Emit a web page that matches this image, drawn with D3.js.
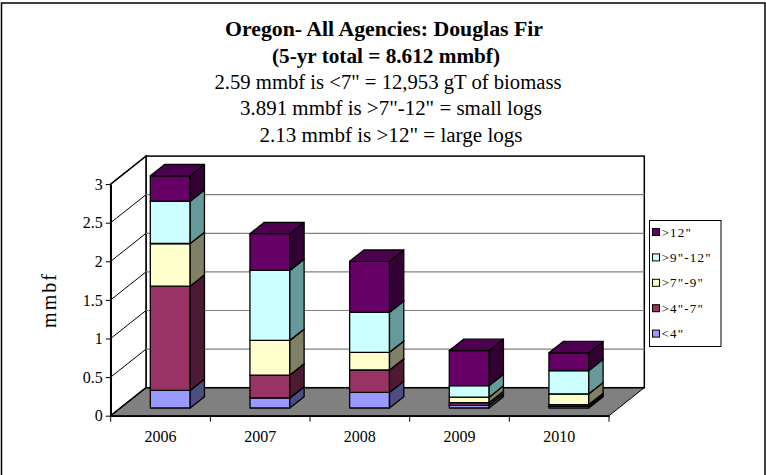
<!DOCTYPE html>
<html>
<head>
<meta charset="utf-8">
<script src="https://cdn.jsdelivr.net/npm/d3@7"></script>
<style>
  body { margin: 0; background: #fff; }
  svg text { font-family: "Liberation Serif", "Noto Serif", "FreeSerif", "Nimbus Roman", "Times New Roman", Times, Tinos, "DejaVu Serif", serif !important; fill: #000; }
</style>
</head>
<body>
<svg id="chart" width="766" height="475"></svg>
<script>
// data (mmbf)
var years = ["2006", "2007", "2008", "2009", "2010"];
var sizeClasses = ['<4"', '>4"-7"', '>7"-9"', '>9"-12"', '>12"'];
var lt4 = [0.228, 0.13, 0.202, 0.035, 0.02];
var from4to7 = [1.35, 0.297, 0.29, 0.035, 0.025];
var from7to9 = [0.553, 0.449, 0.229, 0.07, 0.139];
var from9to12 = [0.548, 0.906, 0.518, 0.15, 0.302];
var gt12 = [0.328, 0.476, 0.661, 0.455, 0.229];
var yTicks = [0, 0.5, 1, 1.5, 2, 2.5, 3];

var titleLines = [
  "Oregon- All Agencies:  Douglas Fir",
  "(5-yr total = 8.612 mmbf)",
  "2.59 mmbf is <7\" = 12,953 gT of biomass",
  "3.891 mmbf is >7\"-12\" = small logs",
  "2.13 mmbf is >12\" = large logs"
];

var front  = ["#9999FF", "#993366", "#FFFFCC", "#CCFFFF", "#660066"];
var tops   = ["#7373BF", "#732650", "#BFBF99", "#99BFBF", "#4D004D"];
var sides  = ["#4D4D80", "#4D1A33", "#808066", "#669999", "#330033"];

var svg = d3.select("#chart");

// outer chart border
svg.append("rect")
    .attr("x", 1.5).attr("y", 3)
    .attr("width", 763.5).attr("height", 480)
    .attr("fill", "#fff").attr("stroke", "#000").attr("stroke-width", 1.5);

// titles
var titleSpec = [
  {cx: 384, y: 36, w: 318, bold: true, size: 21},
  {cx: 386, y: 63, w: 228, bold: true, size: 21},
  {cx: 388, y: 89, w: 347, bold: false, size: 20.5},
  {cx: 391, y: 115, w: 302, bold: false, size: 20.5},
  {cx: 391, y: 142, w: 263, bold: false, size: 20.5}
];
svg.selectAll(".title")
  .data(titleLines)
  .enter().append("text")
    .attr("class", "title")
    .attr("x", (d, i) => titleSpec[i].cx)
    .attr("y", (d, i) => titleSpec[i].y)
    .attr("text-anchor", "middle")
    .attr("textLength", (d, i) => titleSpec[i].w)
    .attr("lengthAdjust", "spacingAndGlyphs")
    .style("font-size", (d, i) => titleSpec[i].size + "px")
    .style("font-weight", (d, i) => titleSpec[i].bold ? "bold" : "normal")
    .text(d => d);

// 3d frame
var x0 = 110.7, x1 = 609;
var DX = 35.3, DY = -28;           // full depth offset of back wall
var d0 = 0.275, d1 = 0.68;         // bar depth range

var x = d3.scaleBand()
    .domain(years)
    .range([x0, x1])
    .paddingInner(0.6)
    .paddingOuter(0.3);

var y = d3.scaleLinear()
    .domain([0, 3])
    .range([415.7, 184.1]);

function p(xv, v, d) { return [xv + d * DX, y(v) + d * DY]; }
function poly(pts) { return pts.map(q => q.join(",")).join(" "); }

var frame = svg.append("g");

// floor
frame.append("polygon")
    .attr("points", poly([p(x0, 0, 0), p(x1, 0, 0), p(x1, 0, 1), p(x0, 0, 1)]))
    .attr("fill", "#808080").attr("stroke", "#000").attr("stroke-width", 1);

// back wall
var bw0 = p(x0, 3, 1), bw1 = p(x1, 0, 1);
frame.append("rect")
    .attr("x", bw0[0]).attr("y", bw0[1])
    .attr("width", bw1[0] - bw0[0]).attr("height", bw1[1] - bw0[1])
    .attr("fill", "#fff").attr("stroke", "#000").attr("stroke-width", 1.5);

// left wall
frame.append("polygon")
    .attr("points", poly([p(x0, 0, 0), p(x0, 3, 0), p(x0, 3, 1), p(x0, 0, 1)]))
    .attr("fill", "#fff").attr("stroke", "#000").attr("stroke-width", 1.5);

// gridlines on back wall
frame.selectAll(".grid")
  .data(yTicks.slice(1, -1))
  .enter().append("line")
    .attr("x1", d => p(x0, d, 1)[0]).attr("y1", d => p(x0, d, 1)[1])
    .attr("x2", d => p(x1, d, 1)[0]).attr("y2", d => p(x1, d, 1)[1])
    .attr("stroke", "#808080").attr("stroke-width", 1.2);

// diagonals on the left wall
frame.selectAll(".diag")
  .data(yTicks)
  .enter().append("line")
    .attr("x1", d => p(x0, d, 0)[0]).attr("y1", d => p(x0, d, 0)[1])
    .attr("x2", d => p(x0, d, 1)[0]).attr("y2", d => p(x0, d, 1)[1])
    .attr("stroke", "#000").attr("stroke-width", 1);

// stacked data
var table = years.map((yr, i) => ({
  year: yr, v: [lt4[i], from4to7[i], from7to9[i], from9to12[i], gt12[i]]
}));

var bars = svg.append("g");
table.forEach(function(row) {
  var base = 0;
  var bx = x(row.year), bw = x.bandwidth();
  row.v.forEach(function(val, k) {
    var top = base + val;
    var g = bars.append("g");
    // front face
    g.append("polygon")
        .attr("points", poly([p(bx, base, d0), p(bx + bw, base, d0), p(bx + bw, top, d0), p(bx, top, d0)]))
        .attr("fill", front[k]);
    // side face
    g.append("polygon")
        .attr("points", poly([p(bx + bw, base, d0), p(bx + bw, base, d1), p(bx + bw, top, d1), p(bx + bw, top, d0)]))
        .attr("fill", sides[k]);
    // top face
    g.append("polygon")
        .attr("points", poly([p(bx, top, d0), p(bx + bw, top, d0), p(bx + bw, top, d1), p(bx, top, d1)]))
        .attr("fill", tops[k]);
    g.selectAll("polygon")
        .attr("stroke", "#000").attr("stroke-width", 1.3).attr("stroke-linejoin", "round");
    base = top;
  });
});

// y axis (front)
svg.append("g")
    .attr("transform", "translate(" + x0 + ",0)")
    .call(d3.axisLeft(y).tickValues(yTicks).tickFormat(d => String(d)).tickSize(5).tickPadding(3).tickSizeOuter(0))
    .call(g => g.select(".domain").attr("stroke-width", 1.5))
    .call(g => g.selectAll("text").style("font-size", "16px"));

// x axis (front edge of floor)
var xAxisG = svg.append("g")
    .attr("transform", "translate(0," + y(0) + ")")
    .call(d3.axisBottom(x).tickSize(0).tickPadding(15).tickSizeOuter(0))
    .call(g => g.select(".domain").attr("stroke-width", 1.5))
    .call(g => g.selectAll("text").style("font-size", "16px"));

xAxisG.selectAll(".sep")
  .data(d3.range(years.length + 1))
  .enter().append("line")
    .attr("x1", i => x0 + i * x.step()).attr("x2", i => x0 + i * x.step())
    .attr("y1", 0).attr("y2", 6)
    .attr("stroke", "#000").attr("stroke-width", 1);

// y title
svg.append("text")
    .attr("transform", "translate(56,300) rotate(-90)")
    .attr("text-anchor", "middle")
    .style("font-size", "20px")
    .style("letter-spacing", "2px")
    .text("mmbf");

// legend
var legend = svg.append("g").attr("transform", "translate(649.5,220.5)");
legend.append("rect")
    .attr("width", 71.5).attr("height", 126)
    .attr("fill", "#fff").attr("stroke", "#000").attr("stroke-width", 1);

var items = legend.selectAll(".item")
  .data(sizeClasses.map((s, k) => ({name: s, k: k})).reverse())
  .enter().append("g")
    .attr("transform", (d, i) => "translate(0," + (11.5 + i * 25.4) + ")");
items.append("rect")
    .attr("x", 3).attr("y", -3.5).attr("width", 7).attr("height", 7)
    .attr("fill", d => front[d.k]).attr("stroke", "#000").attr("stroke-width", 1);
items.append("text")
    .attr("x", 12).attr("y", 4.5)
    .style("font-size", "13px")
    .style("letter-spacing", "1.2px")
    .text(d => d.name);
</script>
</body>
</html>
